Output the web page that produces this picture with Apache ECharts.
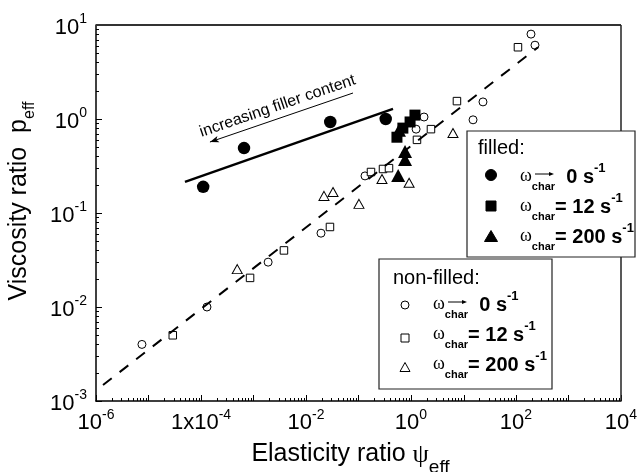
<!DOCTYPE html>
<html>
<head>
<meta charset="utf-8">
<script src="https://cdn.jsdelivr.net/npm/echarts@6/dist/echarts.min.js"></script>
<style>
  html, body { margin: 0; padding: 0; background: #fff; }
  #wrap { position: relative; width: 637px; height: 472px; }
  #chart, #frame { position: absolute; left: 0; top: 0; width: 637px; height: 472px; }
  #frame { pointer-events: none; }
</style>
</head>
<body>
<div id="wrap">
  <div id="chart"></div>
  <div id="frame"></div>
</div>
<script>
// Filled systems: [elasticity ratio psi_eff, viscosity ratio p_eff]
const filledZero = [[1.1e-4, 0.19], [6.6e-4, 0.49], [0.029, 0.93], [0.33, 1.0]];
const filledTwelve = [[0.54, 0.64], [0.70, 0.80], [0.96, 0.93], [1.19, 1.10]];
const filledTwoHundred = [[0.59, 0.76], [0.77, 0.45], [0.77, 0.37], [0.57, 0.25]];

// Non-filled systems
const openZero = [[7.5e-6, 0.0040], [1.3e-4, 0.010], [1.9e-3, 0.030], [0.0193, 0.061], [0.133, 0.248],
  [1.25, 0.78], [1.77, 1.05], [15.2, 0.98], [23.5, 1.52], [193, 8.0], [230, 6.1]];
const openTwelve = [[2.9e-5, 0.0050], [8.6e-4, 0.0204], [3.8e-3, 0.040], [0.0286, 0.071], [0.173, 0.273],
  [0.293, 0.294], [0.381, 0.30], [1.30, 0.60], [2.40, 0.78], [7.5, 1.55], [109, 5.8]];
const openTwoHundred = [[4.9e-4, 0.0253], [0.022, 0.152], [0.0327, 0.167], [0.102, 0.125], [0.28, 0.23],
  [0.92, 0.21], [6.3, 0.71]];

// Trend lines
const filledFit = [[4.95e-5, 0.214], [0.454, 1.28]];
const overallFit = [[1.36e-6, 1.48e-3], [263, 5.8]];
const trendArrow = [[0.0786, 1.89], [1.48e-4, 0.569]];
const trendText = 'increasing filler content';

// Axis decades and tick steps
const xDecades = [-6, -5, -4, -3, -2, -1, 0, 1, 2, 3];
const yDecades = [-3, -2, -1, 0];
const tickSteps = [1, 2, 3, 4, 5, 6, 7, 8, 9];
const xMin = 1e-6, xMax = 1e4, yMin = 1e-3, yMax = 1e1;

const FONT = "'Liberation Sans', Arial, sans-serif";
const SERIF = "'Liberation Serif', 'Times New Roman', serif";
const gridBox = { left: 96, right: 16, top: 25, bottom: 71, containLabel: false, outerBoundsMode: 'none' };
const filledBox = { x: 467, y: 131, width: 168, height: 126 };
const openBox = { x: 379, y: 259, width: 173, height: 130 };

function powerLabel(v) {
  const e = Math.round(Math.log10(v));
  return (e === -4 ? '{b|1x10}' : '{b|10}') + '{s|' + e + '}';
}
const labelRich = {
  b: { fontFamily: FONT, fontSize: 22, color: '#000', height: 26, lineHeight: 26, verticalAlign: 'top' },
  s: { fontFamily: FONT, fontSize: 14, color: '#000', height: 10, lineHeight: 10, verticalAlign: 'top' }
};

// legend rows: omega_char with subscript, value with superscript
const rowRich = {
  w: { fontFamily: SERIF, fontSize: 18, fill: '#000', height: 31.8, lineHeight: 31.8, verticalAlign: 'top' },
  sub: { fontFamily: FONT, fontWeight: 'bold', fontSize: 11, fill: '#000', height: 54.5, lineHeight: 54.5, verticalAlign: 'top' },
  eq: { fontFamily: FONT, fontWeight: 'bold', fontSize: 20, fill: '#000', height: 34.1, lineHeight: 34.1, verticalAlign: 'top' },
  sup: { fontFamily: FONT, fontWeight: 'bold', fontSize: 13, fill: '#000', height: 17, lineHeight: 17, verticalAlign: 'top' }
};
const rateTexts = ['{w|ω}{sub|char}{eq|  0 s}{sup|-1}', '{w|ω}{sub|char}{eq|= 12 s}{sup|-1}', '{w|ω}{sub|char}{eq|= 200 s}{sup|-1}'];

function legendBlock(box, title, titleX, titleBase, markX, markY, rowX, rowBase, filled, sizes) {
  const els = [];
  els.push({ type: 'rect', z: 110, silent: true, shape: box, style: { fill: '#fff', stroke: '#222', lineWidth: 1.2 } });
  els.push({ type: 'text', z: 111, silent: true, x: titleX, y: titleBase - 6.9,
    style: { text: title, fontFamily: FONT, fontSize: 20, fill: '#000', align: 'left', verticalAlign: 'middle' } });
  const fill = filled ? '#000' : '#fff';
  const st = { fill: fill, stroke: '#000', lineWidth: 1 };
  els.push({ type: 'circle', z: 111, silent: true, shape: { cx: markX, cy: markY[0], r: sizes[0] / 2 }, style: st });
  els.push({ type: 'rect', z: 111, silent: true, shape: { x: markX - sizes[1] / 2, y: markY[1] - sizes[1] / 2, width: sizes[1], height: sizes[1] }, style: st });
  const tw = sizes[2][0] / 2, th = sizes[2][1] / 2;
  els.push({ type: 'polygon', z: 111, silent: true, shape: { points: [[markX, markY[2] - th], [markX + tw, markY[2] + th], [markX - tw, markY[2] + th]] }, style: st });
  rateTexts.forEach((t, i) => {
    els.push({ type: 'text', z: 111, silent: true, x: rowX, y: rowBase[i] - 24,
      style: { text: t, rich: rowRich, align: 'left', verticalAlign: 'top' } });
  });
  // small arrow over "char" in the first row
  const ay = rowBase[0] - 10;
  els.push({ type: 'line', z: 111, silent: true, shape: { x1: rowX + 15, y1: ay, x2: rowX + 31, y2: ay }, style: { stroke: '#000', lineWidth: 1 } });
  els.push({ type: 'polygon', z: 111, silent: true, shape: { points: [[rowX + 34, ay], [rowX + 29, ay - 2], [rowX + 29, ay + 2]] }, style: { fill: '#000' } });
  return els;
}

const legendEls = []
  .concat(legendBlock(filledBox, 'filled:', 478, 155, 491,
    [175, 206, 236], 520, [184, 214, 244], true, [11, 10, [13, 11]]))
  .concat(legendBlock(openBox, 'non-filled:', 393, 285, 405,
    [305, 338, 367], 433, [312, 342, 372], false, [8, 8, [10, 9]]));

// ---------- main chart: data, axes, titles, legends ----------
const chart = echarts.init(document.getElementById('chart'), null, { renderer: 'canvas' });
chart.setOption({
  animation: false,
  backgroundColor: '#fff',
  grid: gridBox,
  xAxis: {
    type: 'log', logBase: 10, min: xMin, max: xMax, interval: 2,
    axisLine: { onZero: false, lineStyle: { color: '#000', width: 1.5 } },
    axisTick: { show: false }, splitLine: { show: false },
    axisLabel: { formatter: powerLabel, rich: labelRich, margin: 9 },
    name: '{t|Elasticity ratio }{g|ψ}{s|eff}', nameLocation: 'middle', nameGap: 36,
    nameTextStyle: {
      verticalAlign: 'top', align: 'center', padding: [0, 16, 0, 0],
      rich: {
        t: { fontFamily: FONT, fontSize: 25, color: '#000', height: 27, lineHeight: 27, verticalAlign: 'top' },
        g: { fontFamily: SERIF, fontSize: 26, color: '#000', height: 29, lineHeight: 29, verticalAlign: 'top' },
        s: { fontFamily: FONT, fontSize: 19, color: '#000', height: 53, lineHeight: 53, verticalAlign: 'top' }
      }
    }
  },
  yAxis: {
    type: 'log', logBase: 10, min: yMin, max: yMax, interval: 1,
    axisLine: { onZero: false, lineStyle: { color: '#000', width: 1.5 } },
    axisTick: { show: false }, splitLine: { show: false },
    axisLabel: { formatter: powerLabel, rich: labelRich, margin: 9, padding: [5, 0, 0, 0] },
    name: '{t|Viscosity ratio  p}{s|eff}', nameLocation: 'middle', nameRotate: 90, nameGap: 52,
    nameTextStyle: {
      verticalAlign: 'bottom', align: 'center', padding: [0, 0, 0, 24],
      rich: {
        t: { fontFamily: FONT, fontSize: 25, color: '#000', height: 40.6, lineHeight: 40.6, verticalAlign: 'bottom' },
        s: { fontFamily: FONT, fontSize: 16, color: '#000', height: 19, lineHeight: 19, verticalAlign: 'bottom' }
      }
    }
  },
  graphic: { elements: legendEls },
  series: [
    { type: 'scatter', data: openZero, symbol: 'circle', symbolSize: 8, silent: true,
      itemStyle: { color: '#fff', borderColor: '#000', borderWidth: 1, opacity: 1 } },
    { type: 'scatter', data: openTwelve, symbol: 'rect', symbolSize: 7.5, silent: true,
      itemStyle: { color: '#fff', borderColor: '#000', borderWidth: 1, opacity: 1 } },
    { type: 'scatter', data: openTwoHundred, symbol: 'triangle', symbolSize: [10, 9], silent: true,
      itemStyle: { color: '#fff', borderColor: '#000', borderWidth: 1, opacity: 1 } },
    { type: 'line', data: overallFit, symbol: 'none', silent: true,
      lineStyle: { color: '#000', width: 2, type: [11, 10] } },
    { type: 'line', data: filledFit, symbol: 'none', silent: true,
      lineStyle: { color: '#000', width: 2.5 },
      markLine: {
        silent: true, symbol: ['none', 'arrow'], symbolSize: [5, 9],
        lineStyle: { color: '#000', width: 1, type: 'solid' },
        label: { show: true, position: 'insideMiddleTop', formatter: trendText, distance: 4,
          fontFamily: FONT, fontSize: 16, color: '#000' },
        emphasis: { disabled: true },
        data: [[{ coord: trendArrow[0] }, { coord: trendArrow[1] }]]
      } },
    { type: 'scatter', data: filledZero, symbol: 'circle', symbolSize: 12.5, silent: true,
      itemStyle: { color: '#000', opacity: 1 } },
    { type: 'scatter', data: filledTwelve, symbol: 'rect', symbolSize: 11, silent: true,
      itemStyle: { color: '#000', opacity: 1 } },
    { type: 'scatter', data: filledTwoHundred, symbol: 'triangle', symbolSize: [14, 13], silent: true,
      itemStyle: { color: '#000', opacity: 1 } }
  ]
});

// ---------- overlay: log tick marks and the top/right frame edges ----------
const xTicks = [];
xDecades.forEach(d => tickSteps.forEach(k => xTicks.push([k * Math.pow(10, d), yMin, k === 1 ? 1 : 0])));
xTicks.push([xMax, yMin, 1]);
const yTicks = [];
yDecades.forEach(d => tickSteps.forEach(k => yTicks.push([xMin, k * Math.pow(10, d), k === 1 ? 1 : 0])));
yTicks.push([xMin, yMax, 1]);

function renderXTick(params, api) {
  const p = api.coord([api.value(0), api.value(1)]);
  const len = api.value(2) ? 6 : 3;
  const x = Math.round(p[0]) + 0.5;
  return { type: 'line', shape: { x1: x, y1: p[1], x2: x, y2: p[1] - len }, style: { stroke: '#000', lineWidth: 1 } };
}
function renderYTick(params, api) {
  const p = api.coord([api.value(0), api.value(1)]);
  const len = api.value(2) ? 6 : 3;
  const y = Math.round(p[1]) + 0.5;
  return { type: 'line', shape: { x1: p[0], y1: y, x2: p[0] + len, y2: y }, style: { stroke: '#000', lineWidth: 1 } };
}
// top edge plus the right edge, which passes behind the "filled" legend box
function renderFrame(params, api) {
  const tl = api.coord([api.value(0), api.value(1)]);
  const br = api.coord([api.value(2), api.value(3)]);
  const gapTop = filledBox.y, gapBottom = filledBox.y + filledBox.height;
  return { type: 'group', children: [
    { type: 'line', shape: { x1: tl[0], y1: tl[1], x2: br[0], y2: tl[1] }, style: { stroke: '#333', lineWidth: 2 } },
    { type: 'line', shape: { x1: br[0], y1: tl[1], x2: br[0], y2: gapTop }, style: { stroke: '#222', lineWidth: 1.5 } },
    { type: 'line', shape: { x1: br[0], y1: gapBottom, x2: br[0], y2: br[1] }, style: { stroke: '#222', lineWidth: 1.5 } }
  ] };
}

const hiddenAxis = (lo, hi) => ({ type: 'log', logBase: 10, min: lo, max: hi,
  axisLine: { show: false }, axisTick: { show: false }, axisLabel: { show: false }, splitLine: { show: false } });
const frame = echarts.init(document.getElementById('frame'), null, { renderer: 'canvas' });
frame.setOption({
  animation: false,
  backgroundColor: 'rgba(0,0,0,0)',
  grid: gridBox,
  xAxis: hiddenAxis(xMin, xMax),
  yAxis: hiddenAxis(yMin, yMax),
  series: [
    { type: 'custom', renderItem: renderXTick, data: xTicks, clip: false, encode: { x: 0, y: 1 } },
    { type: 'custom', renderItem: renderYTick, data: yTicks, clip: false, encode: { x: 0, y: 1 } },
    { type: 'custom', renderItem: renderFrame, data: [[xMin, yMax, xMax, yMin]], clip: false,
      encode: { x: [0, 2], y: [1, 3] } }
  ]
});
</script>
</body>
</html>
